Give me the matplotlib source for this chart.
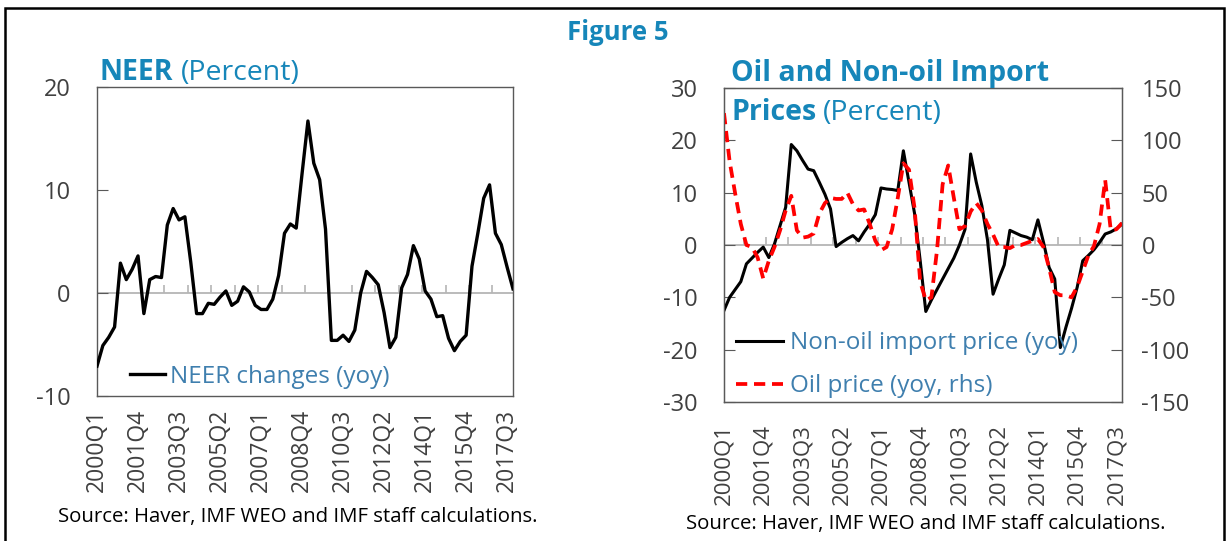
import numpy as np
import matplotlib.pyplot as plt
from matplotlib.patches import Rectangle

plt.rcParams['font.family'] = ['Open Sans', 'DejaVu Sans']
plt.rcParams['axes.unicode_minus'] = False

# quarterly data 2000Q1 - 2017Q4
quarters = [f"{y}Q{q}" for y in range(2000, 2018) for q in range(1, 5)]
label_idx = list(range(0, 71, 7))

neer = [-7.1, -5.1, -4.3, -3.3, 2.9, 1.3, 2.3, 3.6, -2.0, 1.3,
        1.6, 1.5, 6.6, 8.2, 7.1, 7.4, 3.0, -2.0, -2.0, -1.0,
        -1.1, -0.4, 0.2, -1.2, -0.8, 0.6, 0.1, -1.2, -1.6, -1.6,
        -0.6, 1.7, 5.8, 6.7, 6.3, 11.6, 16.7, 12.6, 11.0, 6.2,
        -4.6, -4.6, -4.1, -4.7, -3.6, 0.0, 2.1, 1.5, 0.8, -1.9,
        -5.3, -4.3, 0.5, 1.8, 4.6, 3.3, 0.2, -0.6, -2.3, -2.2,
        -4.4, -5.6, -4.7, -4.1, 2.6, 5.8, 9.2, 10.5, 5.8, 4.7,
        2.5, 0.4]

nonoil = [-12.5, -10.0, -8.5, -7.0, -3.6, -2.5, -1.4, -0.4, -2.4, 0.2,
          3.7, 7.2, 19.2, 18.0, 16.2, 14.5, 14.2, 12.0, 9.7, 6.9,
          -0.3, 0.5, 1.2, 1.8, 0.8, 2.5, 4.0, 5.8, 10.9, 10.7,
          10.6, 10.4, 18.0, 12.0, 6.0, -3.0, -12.7, -10.5, -8.5, -6.5,
          -4.5, -2.5, 0.0, 3.0, 17.4, 12.0, 7.5, 1.0, -9.4, -6.5,
          -3.8, 2.8, 2.3, 1.8, 1.5, 1.0, 4.8, 0.5, -4.3, -6.5,
          -19.6, -15.7, -12.1, -8.1, -3.0, -2.0, -0.9, 0.5, 2.1, 2.5,
          3.1, 4.0]

oil = [126, 80, 49, 20, 0, -2, -12, -32, -15, -2,
       14, 33, 47, 14, 7, 8, 11, 30, 40, 45,
       44, 44, 50, 39, 33, 34, 20, 4, -5, -2,
       15, 45, 78, 72, 35, -35, -53, -50, -5, 58,
       76, 45, 15, 18, 32, 40, 33, 20, 10, -2,
       -2, -3, 0, 0, 2, 4, 5.7, -2, -22, -45,
       -48, -48, -50, -40, -25, -10, -1, 20, 62, 14,
       15, 21]

blue = '#1686b9'
leg_c = '#3f7fae'
spine_c = '#595959'
tick_c = '#404040'
x = np.arange(len(quarters))
W, H = 1229, 541

fig = plt.figure(figsize=(W / 100, H / 100), dpi=100)
fig.patches.append(Rectangle((5 / W, -0.1), (1224 - 5) / W, 1 - 8 / H + 0.1,
                             transform=fig.transFigure, fill=False, lw=1.8, ec='black'))


def style_axes(ax, zero_frac, xpad, xsize):
    for s in ax.spines.values():
        s.set_color(spine_c)
        s.set_linewidth(1.0)
    ax.set_xlim(0, len(quarters) - 1)
    ax.set_xticks(label_idx)
    ax.set_xticklabels([quarters[i] for i in label_idx], rotation=90, color=tick_c)
    ax.tick_params(axis='x', length=0, pad=xpad, labelsize=xsize)
    ax.axhline(0, color='#b5b5b5', lw=1.3, zorder=1)
    # small tick marks along the zero line
    sec = ax.secondary_xaxis(zero_frac)
    sec.set_alignment('bottom')
    sec.set_xticks(np.arange(3.5, len(quarters), 4))
    sec.tick_params(direction='in', length=6, color='#b5b5b5', width=1.2,
                    labelbottom=False, labeltop=False)
    for s in sec.spines.values():
        s.set_visible(False)


# ---- left panel: NEER
ax1 = fig.add_axes([97 / W, 1 - 396 / H, 416 / W, 309 / H])
ax1.plot(x, neer, color='black', lw=2.4, label='NEER changes (yoy)', zorder=3)
ax1.set_ylim(-10, 20)
ax1.set_yticks([-10, 0, 10, 20])
ax1.tick_params(axis='y', direction='in', length=8, pad=19, color=spine_c,
                labelsize=17, labelcolor=tick_c)
style_axes(ax1, 1 / 3, 9, 16.5)
leg1 = ax1.legend(loc='center left', bbox_to_anchor=(0.079, 0.062), frameon=False,
                  fontsize=17.5, handlelength=1.45, handletextpad=0.2, borderpad=0,
                  borderaxespad=0)
for t in leg1.get_texts():
    t.set_color(leg_c)

# ---- right panel: oil and non-oil import prices
ax2 = fig.add_axes([724 / W, 1 - 402 / H, 398 / W, 314 / H])
ax2r = ax2.twinx()
l1, = ax2.plot(x, nonoil, color='black', lw=2.2, label='Non-oil import price (yoy)', zorder=3)
l2, = ax2r.plot(x, oil, color='#ff0000', lw=2.7, ls=(0, (3, 1.8)), label='Oil price (yoy, rhs)')
ax2.set_ylim(-30, 30)
ax2.set_yticks(range(-30, 31, 10))
ax2r.set_ylim(-150, 150)
ax2r.set_yticks(range(-150, 151, 50))
ax2.tick_params(axis='y', direction='in', length=8, pad=19, color=spine_c,
                labelsize=17, labelcolor=tick_c)
ax2r.tick_params(axis='y', direction='in', length=8, pad=14, color=spine_c,
                 labelsize=17, labelcolor=tick_c)
style_axes(ax2, 0.5, 16, 16)
for s in ax2r.spines.values():
    s.set_color(spine_c)
leg2 = ax2r.legend(handles=[l1, l2], loc='center left', bbox_to_anchor=(0.03, 0.118),
                   frameon=False, fontsize=17.5, handlelength=1.93, handletextpad=0.29,
                   borderpad=0, borderaxespad=0, labelspacing=0.78)
for t in leg2.get_texts():
    t.set_color(leg_c)

# ---- titles
renderer = fig.canvas.get_renderer()


def two_part(xpx, ypx, bold, rest, size=20.5):
    t = fig.text(xpx / W, 1 - ypx / H, bold, fontsize=size, weight='bold', color=blue,
                 ha='left', va='center')
    bb = t.get_window_extent(renderer)
    if rest:
        fig.text((bb.x1 + 7) / W, 1 - ypx / H, rest, fontsize=size, color=blue,
                 ha='left', va='center')


fig.text(618 / W, 1 - 32 / H, 'Figure 5', fontsize=18.5, weight='bold', color=blue,
         ha='center', va='center')
two_part(100, 73, 'NEER', '(Percent)')
two_part(731, 74, 'Oil and Non-oil Import', '')
two_part(731, 113, 'Prices', '(Percent)')

fig.text(58 / W, 1 - 517 / H, 'Source: Haver, IMF WEO and IMF staff calculations.',
         fontsize=14.7, color='black', ha='left', va='center')
fig.text(686 / W, 1 - 524 / H, 'Source: Haver, IMF WEO and IMF staff calculations.',
         fontsize=14.7, color='black', ha='left', va='center')

fig.savefig('out.png', dpi=100)
